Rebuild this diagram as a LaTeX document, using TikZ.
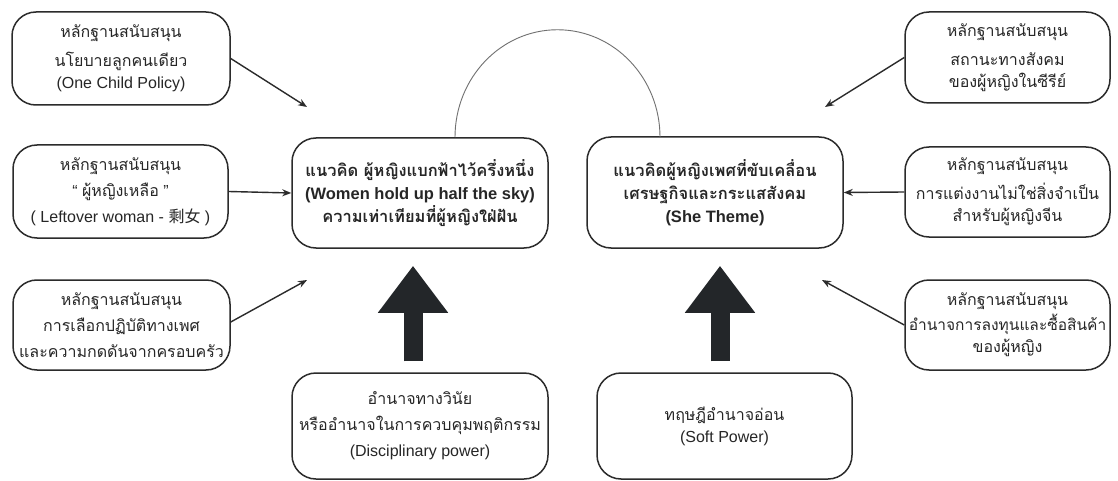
\documentclass[tikz,border=0pt]{standalone}
\usepackage{fontspec}
\setmainfont{Liberation Sans}
\newfontfamily\thaifont[Script=Thai]{Loma}
\newfontfamily\cjkfont{Noto Sans CJK SC}
\newcommand{\tht}[1]{{\thaifont #1}}
\definecolor{boxline}{HTML}{2B2B2B}
\definecolor{inktext}{HTML}{262626}
\definecolor{arcgray}{HTML}{707070}
\definecolor{fatblack}{HTML}{232629}
\usetikzlibrary{arrows.meta, positioning, calc}

\begin{document}
\begin{tikzpicture}[x=1pt, y=-1pt,
    factbox/.style={draw=boxline, line width=1.5pt, rounded corners=24pt, align=center,
      text=inktext, font=\fontsize{16}{22}\selectfont, inner sep=0pt},
    ideabox/.style={factbox, font=\fontsize{16.5}{23}\selectfont\bfseries},
    link/.style={-{Stealth[length=9pt, width=7pt]}, line width=1.4pt, draw=boxline},
    fatarrow/.style={draw=fatblack, line width=19pt,
      -{Triangle[length=47pt, width=67pt]}}]
  \useasboundingbox[fill=white] (0,0) rectangle (1118,481);
  % Supporting evidence, left
  \node[factbox, minimum width=218pt, minimum height=93pt] (evchild) at (121,58.5)
    {\tht{หลักฐานสนับสนุน}\\[7pt]\tht{นโยบายลูกคนเดียว}\\(One Child Policy)};
  \node[factbox, minimum width=215pt, minimum height=93pt] (evleft) at (120.5,191.5)
    {\tht{หลักฐานสนับสนุน}\\[4pt]“ \tht{ผู้หญิงเหลือ} ”\\[4pt]( Leftover woman - {\cjkfont 剩女} )};
  \node[factbox, minimum width=217pt, minimum height=90pt] (evfamily) at (121.5,325)
    {\tht{หลักฐานสนับสนุน}\\[4pt]\tht{การเลือกปฏิบัติทางเพศ}\\[4pt]\tht{และความกดดันจากครอบครัว}};
  % Main ideas
  \node[ideabox, minimum width=256pt, minimum height=110pt] (halfsky) at (420,193)
    {\tht{แนวคิด ผู้หญิงแบกฟ้าไว้ครึ่งหนึ่ง}\\(Women hold up half the sky)\\\tht{ความเท่าเทียมที่ผู้หญิงใฝ่ฝัน}};
  \node[ideabox, minimum width=256pt, minimum height=111pt] (shetheme) at (715,192.5)
    {\tht{แนวคิดผู้หญิงเพศที่ขับเคลื่อน}\\\tht{เศรษฐกิจและกระแสสังคม}\\(She Theme)};
  % Supporting evidence, right
  \node[factbox, minimum width=205pt, minimum height=91pt] (evstatus) at (1007.5,57.5)
    {\tht{หลักฐานสนับสนุน}\\[7pt]\tht{สถานะทางสังคม}\\\tht{ของผู้หญิงในซีรีย์}};
  \node[factbox, minimum width=205pt, minimum height=90pt] (evmarry) at (1007.5,192)
    {\tht{หลักฐานสนับสนุน}\\[7pt]\tht{การแต่งงานไม่ใช่สิ่งจำเป็น}\\\tht{สำหรับผู้หญิงจีน}};
  \node[factbox, minimum width=205pt, minimum height=90pt] (evbuy) at (1007.5,325)
    {\tht{หลักฐานสนับสนุน}\\[3pt]{\fontsize{15.5}{22}\selectfont\tht{อำนาจการลงทุนและซื้อสินค้า}}\\\tht{ของผู้หญิง}};
  % Theories
  \node[factbox, minimum width=256pt, minimum height=106pt] (discipline) at (420,426)
    {\tht{อำนาจทางวินัย}\\[4pt]\tht{หรืออำนาจในการควบคุมพฤติกรรม}\\[4pt](Disciplinary power)};
  \node[factbox, minimum width=255pt, minimum height=106pt] (softpower) at (724.5,426)
    {\tht{ทฤษฎีอำนาจอ่อน}\\(Soft Power)};
  % Free arrow ends
  \coordinate (tipa) at (307,107);
  \coordinate (tipb) at (307,280);
  \coordinate (tipc) at (825,107);
  \coordinate (tipd) at (822,280);
  % Thin arrows
  \draw[link] (evchild.east) -- (tipa);
  \draw[link] (evleft.east) -- (halfsky.west);
  \draw[link] ([yshift=3pt]evfamily.east) -- (tipb);
  \draw[link] (evstatus.west) -- (tipc);
  \draw[link] (evmarry.west) -- (shetheme.east);
  \draw[link] (evbuy.west) -- (tipd);
  % Arc between the two ideas
  \draw[arcgray, line width=0.9pt] ([xshift=35pt]halfsky.north)
    arc[start angle=180, end angle=0, x radius=102.5pt, y radius=107.5pt];
  % Thick arrows
  \draw[fatarrow, shorten <=11pt, shorten >=17pt] ([xshift=-7pt]discipline.north) -- ([xshift=-7pt]halfsky.south);
  \draw[fatarrow, shorten <=11pt, shorten >=17pt] ([xshift=-4.5pt]softpower.north) -- ([xshift=5pt]shetheme.south);
\end{tikzpicture}
\end{document}
